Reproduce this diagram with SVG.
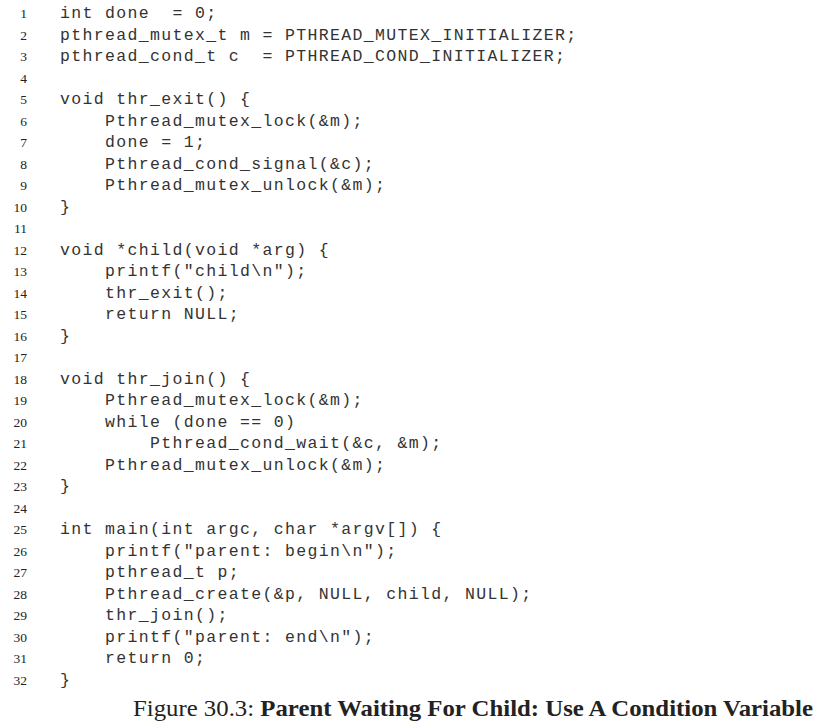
<svg xmlns="http://www.w3.org/2000/svg" width="820" height="727" viewBox="0 0 820 727">
<style>
.n{font-family:"Liberation Serif",serif;font-size:13.5px;fill:#222;text-anchor:end}
.c{font-family:"Liberation Mono",monospace;font-size:16.5px;letter-spacing:1.35px;fill:#333;white-space:pre}
.cap{font-family:"Liberation Serif",serif;font-size:23px;fill:#222}
</style>
<rect width="820" height="727" fill="#fff"/>
<g id="line-numbers">
<text class="n" x="27" y="18">1</text>
<text class="n" x="27" y="39.5">2</text>
<text class="n" x="27" y="61">3</text>
<text class="n" x="27" y="82.5">4</text>
<text class="n" x="27" y="104">5</text>
<text class="n" x="27" y="125.5">6</text>
<text class="n" x="27" y="147">7</text>
<text class="n" x="27" y="168.5">8</text>
<text class="n" x="27" y="190">9</text>
<text class="n" x="27" y="211.5">10</text>
<text class="n" x="27" y="233">11</text>
<text class="n" x="27" y="254.5">12</text>
<text class="n" x="27" y="276">13</text>
<text class="n" x="27" y="297.5">14</text>
<text class="n" x="27" y="319">15</text>
<text class="n" x="27" y="340.5">16</text>
<text class="n" x="27" y="362">17</text>
<text class="n" x="27" y="383.5">18</text>
<text class="n" x="27" y="405">19</text>
<text class="n" x="27" y="426.5">20</text>
<text class="n" x="27" y="448">21</text>
<text class="n" x="27" y="469.5">22</text>
<text class="n" x="27" y="491">23</text>
<text class="n" x="27" y="512.5">24</text>
<text class="n" x="27" y="534">25</text>
<text class="n" x="27" y="555.5">26</text>
<text class="n" x="27" y="577">27</text>
<text class="n" x="27" y="598.5">28</text>
<text class="n" x="27" y="620">29</text>
<text class="n" x="27" y="641.5">30</text>
<text class="n" x="27" y="663">31</text>
<text class="n" x="27" y="684.5">32</text>
</g>
<g id="code">
<text class="c" x="60" y="18">int done  = 0;</text>
<text class="c" x="60" y="39.5">pthread_mutex_t m = PTHREAD_MUTEX_INITIALIZER;</text>
<text class="c" x="60" y="61">pthread_cond_t c  = PTHREAD_COND_INITIALIZER;</text>
<text class="c" x="60" y="104">void thr_exit() {</text>
<text class="c" x="60" y="125.5">    Pthread_mutex_lock(&amp;m);</text>
<text class="c" x="60" y="147">    done = 1;</text>
<text class="c" x="60" y="168.5">    Pthread_cond_signal(&amp;c);</text>
<text class="c" x="60" y="190">    Pthread_mutex_unlock(&amp;m);</text>
<text class="c" x="60" y="211.5">}</text>
<text class="c" x="60" y="254.5">void *child(void *arg) {</text>
<text class="c" x="60" y="276">    printf("child\n");</text>
<text class="c" x="60" y="297.5">    thr_exit();</text>
<text class="c" x="60" y="319">    return NULL;</text>
<text class="c" x="60" y="340.5">}</text>
<text class="c" x="60" y="383.5">void thr_join() {</text>
<text class="c" x="60" y="405">    Pthread_mutex_lock(&amp;m);</text>
<text class="c" x="60" y="426.5">    while (done == 0)</text>
<text class="c" x="60" y="448">        Pthread_cond_wait(&amp;c, &amp;m);</text>
<text class="c" x="60" y="469.5">    Pthread_mutex_unlock(&amp;m);</text>
<text class="c" x="60" y="491">}</text>
<text class="c" x="60" y="534">int main(int argc, char *argv[]) {</text>
<text class="c" x="60" y="555.5">    printf("parent: begin\n");</text>
<text class="c" x="60" y="577">    pthread_t p;</text>
<text class="c" x="60" y="598.5">    Pthread_create(&amp;p, NULL, child, NULL);</text>
<text class="c" x="60" y="620">    thr_join();</text>
<text class="c" x="60" y="641.5">    printf("parent: end\n");</text>
<text class="c" x="60" y="663">    return 0;</text>
<text class="c" x="60" y="684.5">}</text>
</g>
<g id="caption">
<text class="cap" x="133" y="716" textLength="680" lengthAdjust="spacingAndGlyphs">Figure 30.3: <tspan font-weight="bold">Parent Waiting For Child: Use A Condition Variable</tspan></text>
</g>
</svg>
